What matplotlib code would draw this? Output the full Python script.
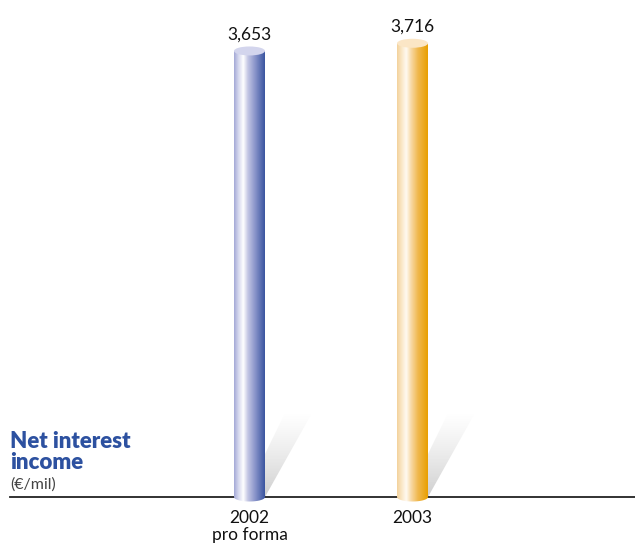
import numpy as np
import matplotlib.pyplot as plt
from matplotlib.colors import LinearSegmentedColormap
from matplotlib.patches import Ellipse, Polygon

categories = ["2002\npro forma", "2003"]
values = [3653, 3716]
value_labels = ["3,653", "3,716"]

# horizontal shading for each cylinder: (position, colour)
shades = [
    [(0.0, "#a4a9d6"), (0.14, "#d4d7ee"), (0.3, "#ffffff"), (0.45, "#c3c6e4"),
     (0.7, "#8591c8"), (1.0, "#3a55a0")],
    [(0.0, "#f3d29c"), (0.14, "#fae6c4"), (0.3, "#fffaf2"), (0.45, "#f8daa8"),
     (0.68, "#f0b84e"), (1.0, "#e99f00")],
]
top_colors = ["#d3d5ed", "#fbe6c6"]

fig = plt.figure(figsize=(6.35, 5.43), dpi=100)
ax = fig.add_axes([0, 0, 1, 1])
ax.axis("off")

# pixel based scale: 163 px between bars, 0.1221 px per unit
px_x = 163.0
px_y = 0.1221
x_left = -249.5 / px_x
x_right = (635 - 249.5) / px_x
y_bottom = -(543 - 497) / px_y
y_top = 497 / px_y

w = 31 / px_x
eh = 9 / px_y
sh = 84 / px_y

for i, v in enumerate(values):
    x0, x1 = i - w / 2, i + w / 2

    # shadow
    sx = np.array([x1 - 21 / px_x, x1, x1 + 47 / px_x, x1 + 20 / px_x])
    sy = np.array([0, 0, sh, sh])
    shadow = Polygon(np.column_stack([sx, sy]), closed=True, fc="none", ec="none")
    ax.add_patch(shadow)
    grad = np.linspace(1, 0, 100)[:, None]
    scmap = LinearSegmentedColormap.from_list("s", [(0.85, 0.85, 0.85, 0.0), (0.78, 0.78, 0.78, 0.85)])
    im = ax.imshow(grad, cmap=scmap, extent=(sx.min(), sx.max(), 0, sh),
                   aspect="auto", origin="lower", zorder=1, interpolation="bilinear")
    im.set_clip_path(shadow)

    # body
    t = np.linspace(np.pi, 2 * np.pi, 40)
    bx = i + (w / 2) * np.cos(t)
    by = (eh / 2) * np.sin(t)
    body_pts = np.vstack([[x0, v]] + [np.column_stack([bx, by])] + [[x1, v]])
    body = Polygon(body_pts, closed=True, fc="none", ec="none")
    ax.add_patch(body)
    cmap = LinearSegmentedColormap.from_list("c%d" % i, shades[i])
    im = ax.imshow(np.linspace(0, 1, 200)[None, :], cmap=cmap,
                   extent=(x0, x1, -eh, v + eh), aspect="auto", zorder=3,
                   interpolation="bilinear")
    im.set_clip_path(body)

    # top cap
    ax.add_patch(Ellipse((i, v), w, eh, fc=top_colors[i], ec="none", zorder=4))

    ax.text(i, v + 70, value_labels[i], ha="center", va="bottom", fontsize=12.5,
            family="Lato", color="#111111", zorder=5)
    ax.text(i, -105, categories[i], ha="center", va="top", fontsize=12.5,
            family="Lato", color="#111111", linespacing=1.1)

# baseline
ax.plot([(10 - 249.5) / px_x, x_right], [0, 0], color="#222222", lw=1.3, zorder=2)

ax.text((10 - 249.5) / px_x, (497 - 431) / px_y, "Net interest\nincome",
        ha="left", va="top", fontsize=16, fontweight="heavy", family="Lato",
        color="#2d51a0", linespacing=1.0)
ax.text((10 - 249.5) / px_x, (497 - 477) / px_y, "(€/mil)", ha="left", va="top",
        fontsize=11.5, family="Lato", color="#444444")

ax.set_xlim(x_left, x_right)
ax.set_ylim(y_bottom, y_top)

fig.savefig("out.png", dpi=100)
